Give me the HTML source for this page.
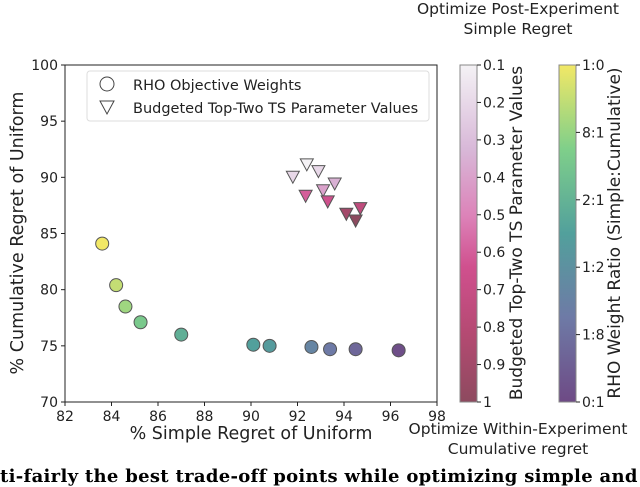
<!DOCTYPE html>
<html><head><meta charset="utf-8"><style>
body{margin:0;background:#fff;width:640px;height:475px;overflow:hidden;position:relative;font-family:"DejaVu Sans","Liberation Sans",sans-serif}
svg{position:absolute;left:0;top:0}
#cap{position:absolute;left:0;top:466px;width:640px;overflow:hidden;font-family:"DejaVu Serif","Liberation Serif",serif;font-weight:bold;font-size:18px;white-space:nowrap;letter-spacing:0.3px}
</style></head><body>
<svg id="c" width="640" height="475">
<defs>
<linearGradient id="g1" x1="0" y1="1" x2="0" y2="0">
<stop offset="0" stop-color="#8d4a5f"/><stop offset="0.2" stop-color="#b44a72"/><stop offset="0.4" stop-color="#d0508e"/><stop offset="0.55" stop-color="#dc82b8"/><stop offset="0.75" stop-color="#d8b8d8"/><stop offset="1" stop-color="#f4f2f5"/></linearGradient>
<linearGradient id="g2" x1="0" y1="1" x2="0" y2="0">
<stop offset="0" stop-color="#6e4a85"/><stop offset="0.25" stop-color="#6e7aa6"/><stop offset="0.5" stop-color="#52a09c"/><stop offset="0.75" stop-color="#7fcf8a"/><stop offset="1" stop-color="#f2e866"/></linearGradient>
</defs>
</svg>
<div id="cap">ti-fairly the best trade-off points while optimizing simple and cumulative regret</div>
<script>
const xTicks=[82,84,86,88,90,92,94,96,98];
const yTicks=[70,75,80,85,90,95,100];
const circX=[83.6,84.2,84.6,85.25,87.0,90.1,90.8,92.6,93.4,94.5,96.35];
const circY=[84.1,80.4,78.5,77.1,76.0,75.1,75.0,74.9,74.7,74.7,74.6];
const circC=[1.0,0.9,0.82,0.72,0.58,0.5,0.47,0.32,0.25,0.15,0.02];
const triX=[92.4,91.8,92.9,93.6,93.1,92.35,93.3,94.7,94.1,94.5];
const triY=[91.2,90.1,90.6,89.5,88.9,88.4,87.9,87.3,86.8,86.2];
const triC=[0.1,0.2,0.2,0.35,0.4,0.6,0.65,0.75,0.9,1.0];
const cb1Labels=["0.1","0.2","0.3","0.4","0.5","0.6","0.7","0.8","0.9","1"];
const cb2Labels=["1:0","8:1","2:1","1:2","1:8","0:1"];
const L=65,R=437,T=65,B=402;
const sx=v=>L+(v-82)/16*(R-L), sy=v=>B-(v-70)/30*(B-T);
const svg=document.getElementById('c'),NS='http://www.w3.org/2000/svg';
function mk(t,a,p){const e=document.createElementNS(NS,t);for(const k in a)e.setAttribute(k,a[k]);(p||svg).appendChild(e);return e;}
function txt(s,a){const e=mk('text',a);e.textContent=s;return e;}
function lerp(stops,t){for(let i=1;i<stops.length;i++){if(t<=stops[i][0]){const a=stops[i-1],b=stops[i],f=(t-a[0])/(b[0]-a[0]);return 'rgb('+[1,2,3].map(j=>Math.round(a[j]+(b[j]-a[j])*f)).join(',')+')';}}const s=stops[stops.length-1];return 'rgb('+s[1]+','+s[2]+','+s[3]+')';}
const vir=[[0,110,74,133],[0.25,110,122,166],[0.5,82,160,156],[0.75,127,207,138],[1,242,232,102]];
const pink=[[0,244,242,245],[0.25,216,184,216],[0.45,220,130,184],[0.6,208,80,142],[0.8,180,74,114],[1,141,74,95]];
mk('rect',{x:L,y:T,width:R-L,height:B-T,fill:'none',stroke:'#222','stroke-width':1,});
xTicks.forEach(v=>{const x=sx(v);mk('line',{x1:x,x2:x,y1:B,y2:B+4,stroke:'#222'});const t=txt(v,{x:x,y:B+19,'text-anchor':'middle','font-size':14,fill:'#222'});});
yTicks.forEach(v=>{const y=sy(v);mk('line',{x1:L-4,x2:L,y1:y,y2:y,stroke:'#222'});const t=txt(v,{x:L-7,y:y+5,'text-anchor':'end','font-size':14,fill:'#222'});});
txt('% Simple Regret of Uniform',{x:251,y:439,'text-anchor':'middle','font-size':17.5,fill:'#222',});
txt('% Cumulative Regret of Uniform',{x:23,y:233,'text-anchor':'middle','font-size':17.5,fill:'#222',transform:'rotate(-90 23 233)',});
circX.forEach((v,i)=>{const c=mk('circle',{cx:sx(v),cy:sy(circY[i]),r:6.5,fill:lerp(vir,circC[i]),stroke:'#555','stroke-width':1});});
triX.forEach((v,i)=>{const x=sx(v),y=sy(triY[i]);const p=mk('polygon',{points:`${x-6.5},${y-5} ${x+6.5},${y-5} ${x},${y+7}`,fill:lerp(pink,(triC[i]-0.1)/0.9),stroke:'#555','stroke-width':1});});
const lg=mk('g',{});
mk('rect',{x:87,y:71,width:342,height:50,rx:3,fill:'#fff',stroke:'#ddd'},lg);
mk('circle',{cx:107,cy:84,r:7,fill:'#fff',stroke:'#444'},lg);
mk('polygon',{points:'100,101 114,101 107,114',fill:'#fff',stroke:'#444'},lg);
txt('RHO Objective Weights',{x:133,y:90,'font-size':14.5,fill:'#222'});
txt('Budgeted Top-Two TS Parameter Values',{x:133,y:113,'font-size':14.5,fill:'#222'});
function cbar(x,grad,labels,title,tx){mk('rect',{x:x,y:T,width:17,height:B-T,fill:'url(#'+grad+')',stroke:'#888',});
labels.forEach((s,i)=>{const y=T+i*(B-T)/(labels.length-1);mk('line',{x1:x+17,x2:x+21,y1:y,y2:y,stroke:'#222'});const t=txt(s,{x:x+23,y:y+5,'font-size':14,fill:'#222'});});
const t=txt(title,{x:tx,y:233,'text-anchor':'middle','font-size':17,fill:'#222',transform:`rotate(-90 ${tx} 233)`});}
cbar(460,'g1',cb1Labels,'Budgeted Top-Two TS Parameter Values',522);
cbar(559,'g2',cb2Labels,'RHO Weight Ratio (Simple:Cumulative)',620);
[['Optimize Post-Experiment',14],['Simple Regret',34]].forEach(a=>txt(a[0],{x:518,y:a[1],'text-anchor':'middle','font-size':15.5,fill:'#222',}));
[['Optimize Within-Experiment',434],['Cumulative regret',454]].forEach(a=>txt(a[0],{x:518,y:a[1],'text-anchor':'middle','font-size':15.5,fill:'#222',}));
</script>
</body></html>
